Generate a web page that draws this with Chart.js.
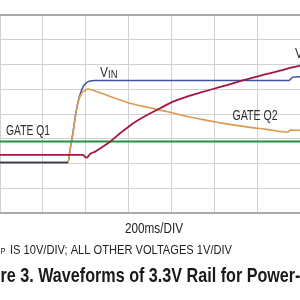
<!DOCTYPE html>
<html>
<head>
<meta charset="utf-8">
<script src="https://cdn.jsdelivr.net/npm/chart.js@4"></script>
<style>
  body { margin: 0; background: #fff; }
  #wrap { position: relative; width: 300px; height: 300px; overflow: hidden; }
</style>
</head>
<body>
<div id="wrap"><canvas id="scopeChart"></canvas></div>
<script>
// time in ms (200ms/DIV), values in divisions (1V/DIV)
const vinTime = [-175, 147, 157, 171, 185, 199, 213, 227, 250, 274, 700, 1181, 1200, 1235];
const vinVolts = [-1.96, -1.96, -1.45, -0.73, 0.08, 0.65, 1.01, 1.21, 1.33, 1.35, 1.35, 1.35, 1.49, 1.51];

const gateQ2Time = [-175, 147, 157, 171, 185, 199, 213, 227, 241, 260, 297, 375, 451, 531, 609, 685, 765, 843, 919, 999, 1077, 1178, 1186, 1235];
const gateQ2Volts = [-1.96, -1.96, -1.45, -0.73, 0.08, 0.61, 0.85, 0.95, 1.01, 0.97, 0.86, 0.62, 0.40, 0.25, 0.10, -0.06, -0.20, -0.33, -0.44, -0.54, -0.62, -0.73, -0.65, -0.66];

const voutTime = [-175, 218, 227, 236, 250, 274, 297, 344, 391, 451, 517, 578, 638, 704, 765, 826, 891, 952, 1013, 1078, 1139, 1200, 1235];
const voutVolts = [-1.65, -1.65, -1.74, -1.76, -1.62, -1.52, -1.39, -1.12, -0.78, -0.38, -0.04, 0.23, 0.50, 0.70, 0.86, 1.01, 1.17, 1.33, 1.47, 1.62, 1.75, 1.89, 1.96];

const gateQ1Time = [-175, 1235];
const gateQ1Volts = [-1.11, -1.11];

const riseStart = 147; // before this both VIN and GATE Q2 sit on 0V and show as a dark trace

function points(t, v) {
    return t.map((x, i) => ({ x: x, y: v[i] }));
}

// draws a text squeezed to a given width (the figure uses a condensed face)
function fitText(c, text, x, y, font, width, color) {
    c.save();
    c.font = font;
    c.fillStyle = color || '#2a2a2a';
    c.textBaseline = 'alphabetic';
    const w = c.measureText(text).width;
    c.translate(x, y);
    c.scale(width / w, 1);
    c.fillText(text, 0, 0);
    c.restore();
}

const labelsPlugin = {
    id: 'scopeLabels',
    afterDraw(chart) {
        const c = chart.ctx;
        const f = '"Liberation Sans", Arial, sans-serif';
        fitText(c, 'V', 100, 76.5, '14px ' + f, 8, '#2e2e2e');
        fitText(c, 'IN', 108, 77.5, '10px ' + f, 9.5, '#2e2e2e');
        fitText(c, 'GATE Q1', 6, 134.5, '14px ' + f, 44, '#2e2e2e');
        fitText(c, 'GATE Q2', 232.5, 119.5, '14px ' + f, 45, '#2e2e2e');
        fitText(c, 'V', 295, 58, '14px ' + f, 8, '#2e2e2e');
        fitText(c, '200ms/DIV', 125, 233, '14px ' + f, 58, '#222');
        fitText(c, 'P', 0.5, 254, '9.5px ' + f, 5, '#222');
        fitText(c, 'IS 10V/DIV; ALL OTHER VOLTAGES 1V/DIV', 10, 254, '13px ' + f, 222, '#222');
        fitText(c, 're 3. Waveforms of 3.3V Rail for Power-', 0.5, 282, 'bold 20.5px ' + f, 300, '#1a1a1a');
    }
};

document.addEventListener("DOMContentLoaded", function () {
    const ctx = document.getElementById('scopeChart').getContext('2d');

    new Chart(ctx, {
        type: 'line',
        data: {
            datasets: [{
                label: 'VOUT',
                data: points(voutTime, voutVolts),
                borderColor: '#a3173f',
                borderWidth: 1.8
            }, {
                label: 'GATE Q1',
                data: points(gateQ1Time, gateQ1Volts),
                borderColor: '#23913f',
                borderWidth: 2
            }, {
                label: 'GATE Q2',
                data: points(gateQ2Time, gateQ2Volts),
                borderColor: '#d99a52',
                borderWidth: 1.6,
                segment: { borderColor: s => s.p1.parsed.x <= riseStart ? '#3a3a3a' : undefined }
            }, {
                label: 'VIN',
                data: points(vinTime, vinVolts),
                borderColor: '#3f51a6',
                borderWidth: 1.5
            }]
        },
        options: {
            responsive: true,
            maintainAspectRatio: false,
            animation: false,
            events: [],
            elements: {
                point: { radius: 0 },
                line: { tension: 0.3, cubicInterpolationMode: 'monotone' }
            },
            plugins: {
                legend: { display: false },
                tooltip: { enabled: false }
            },
            scales: {
                x: {
                    type: 'linear',
                    min: -170.8,
                    max: 1232.7,
                    ticks: { display: false, stepSize: 200 },
                    grid: { color: '#d2d2d2', drawTicks: false },
                    border: { display: false },
                    afterFit: s => { s.height = 0; }
                },
                y: {
                    min: -4,
                    max: 4,
                    ticks: { display: false, stepSize: 1 },
                    grid: {
                        drawTicks: false,
                        color: c => (c.index === 0 || c.index === 8) ? '#a9a9a9' : '#d2d2d2',  // top and bottom frame darker
                        lineWidth: c => (c.index === 0 || c.index === 8) ? 2 : 1
                    },
                    border: { display: false },
                    afterFit: s => { s.width = 0; }
                }
            },
            layout: {
                padding: { top: 15, bottom: 87, left: 0, right: 0 }
            }
        },
        plugins: [labelsPlugin]
    });
});
</script>
</body>
</html>
